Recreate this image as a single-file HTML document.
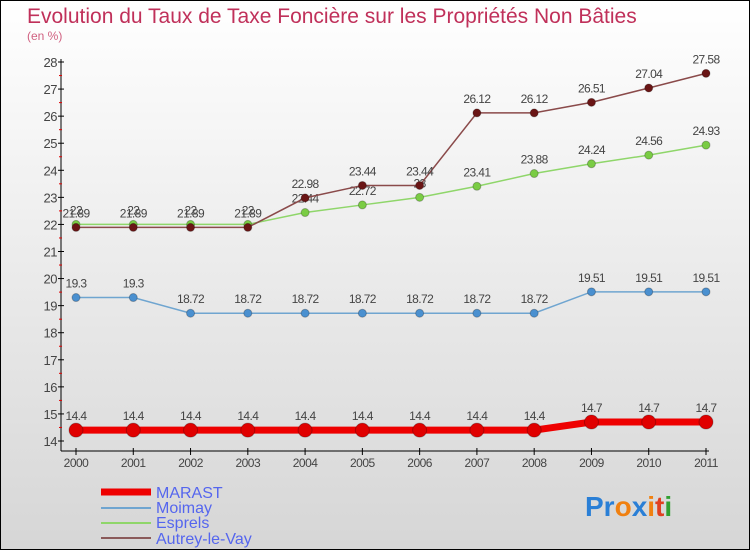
<!DOCTYPE html>
<html><head><meta charset="utf-8"><style>
html,body{margin:0;padding:0}
body{width:750px;height:550px;overflow:hidden;font-family:"Liberation Sans",sans-serif}
#wrap{position:relative;width:748px;height:548px;border:1px solid #000;background:linear-gradient(#ffffff,#d6d6d6)}
</style></head><body>
<div id="wrap">
<svg id="chart" width="748" height="548" style="position:absolute;left:0;top:0">
<text x="26" y="22" font-size="21" fill="#c0305a">Evolution du Taux de Taxe Foncière sur les Propriétés Non Bâties</text>
<text x="26" y="39" font-size="12" fill="#d06080">(en %)</text>
<g id="axes"></g><g id="series"></g>
<g>
<line x1="100" y1="491" x2="150" y2="491" stroke="#ee0000" stroke-width="7"/>
<text x="155" y="497" font-size="16" fill="#5566ee">MARAST</text>
<line x1="100" y1="507" x2="150" y2="507" stroke="#6fa5d0" stroke-width="2"/>
<text x="155" y="512" font-size="16" fill="#5566ee">Moimay</text>
<line x1="100" y1="522" x2="150" y2="522" stroke="#8fd66a" stroke-width="2"/>
<text x="155" y="527" font-size="16" fill="#5566ee">Esprels</text>
<line x1="100" y1="537" x2="150" y2="537" stroke="#8a5a5a" stroke-width="2"/>
<text x="155" y="543" font-size="16" fill="#5566ee">Autrey-le-Vay</text>
</g>
<text x="584" y="515" font-size="28" font-weight="bold"><tspan fill="#2a7fd6">Pr</tspan><tspan fill="#f08010">o</tspan><tspan fill="#2a7fd6">x</tspan><tspan fill="#f08010">i</tspan><tspan fill="#e04020">t</tspan><tspan fill="#30a030">i</tspan></text>
</svg>
</div>
<script>
const years=[2000,2001,2002,2003,2004,2005,2006,2007,2008,2009,2010,2011];
const yTicks=[14,15,16,17,18,19,20,21,22,23,24,25,26,27,28];
const marast=[14.4,14.4,14.4,14.4,14.4,14.4,14.4,14.4,14.4,14.7,14.7,14.7];
const moimay=[19.3,19.3,18.72,18.72,18.72,18.72,18.72,18.72,18.72,19.51,19.51,19.51];
const esprels=[22,22,22,22,22.44,22.72,23,23.41,23.88,24.24,24.56,24.93];
const autrey=[21.89,21.89,21.89,21.89,22.98,23.44,23.44,26.12,26.12,26.51,27.04,27.58];
const NS="http://www.w3.org/2000/svg";
const X=i=>75+i*(630/(years.length-1));
const Y=v=>440-(v-14)*(379/14);
function mk(tag,attrs,parent){const e=document.createElementNS(NS,tag);for(const k in attrs)e.setAttribute(k,attrs[k]);parent.appendChild(e);return e;}
const axes=document.getElementById('axes'),ser=document.getElementById('series');
let a=mk('line',{x1:60,y1:58,x2:60,y2:450,stroke:'#000'},axes);


a=mk('line',{x1:60,y1:450,x2:708,y2:450,stroke:'#000'},axes);


yTicks.forEach(t=>{
 const y=Y(t);
 let l=mk('line',{x1:57,y1:y,x2:63,y2:y,stroke:'#000'},axes);
 
 
 if(t<28){let m=mk('line',{x1:58,y1:Y(t+0.5),x2:61,y2:Y(t+0.5),stroke:'#e00000'},axes);
 
 }
 const tx=mk('text',{x:56,y:y+5,'font-size':13,fill:'#444','text-anchor':'end','letter-spacing':'-0.5'},axes);
 tx.textContent=t;
 
 
});
years.forEach((yr,i)=>{
 const x=X(i);
 let l=mk('line',{x1:x,y1:447,x2:x,y2:454,stroke:'#000'},axes);
 
 
 const tx=mk('text',{x:x,y:466,'font-size':12,fill:'#444','text-anchor':'middle','letter-spacing':'-0.5'},axes);
 tx.textContent=yr;
 
 
});
function draw(vals,name,color,w,r,dot){
 const g=mk('g',{},ser);
 
 
 const p=mk('polyline',{points:vals.map((v,i)=>X(i)+','+Y(v)).join(' '),fill:'none',stroke:color,'stroke-width':w},g);
 
 
 vals.forEach((v,i)=>{
  const c=mk('circle',{cx:X(i),cy:Y(v),r:r,fill:dot,stroke:'rgba(0,0,0,0.25)','stroke-width':1},g);
  
  
  const t=mk('text',{x:X(i),y:Y(v)-10,'font-size':12,fill:'#444','text-anchor':'middle','letter-spacing':'-0.6'},g);
  t.textContent=v;
  
  
 });
}
draw(moimay,'moimay','#6fa5d0',1.5,4,'#4a90d0');
draw(esprels,'esprels','#8fd66a',1.5,4,'#7acc44');
draw(autrey,'autrey-le-vay','#8a4a4a',1.5,4,'#6a1515');
draw(marast,'marast','#ee0000',7,7,'#e00000');
</script>
</body></html>
